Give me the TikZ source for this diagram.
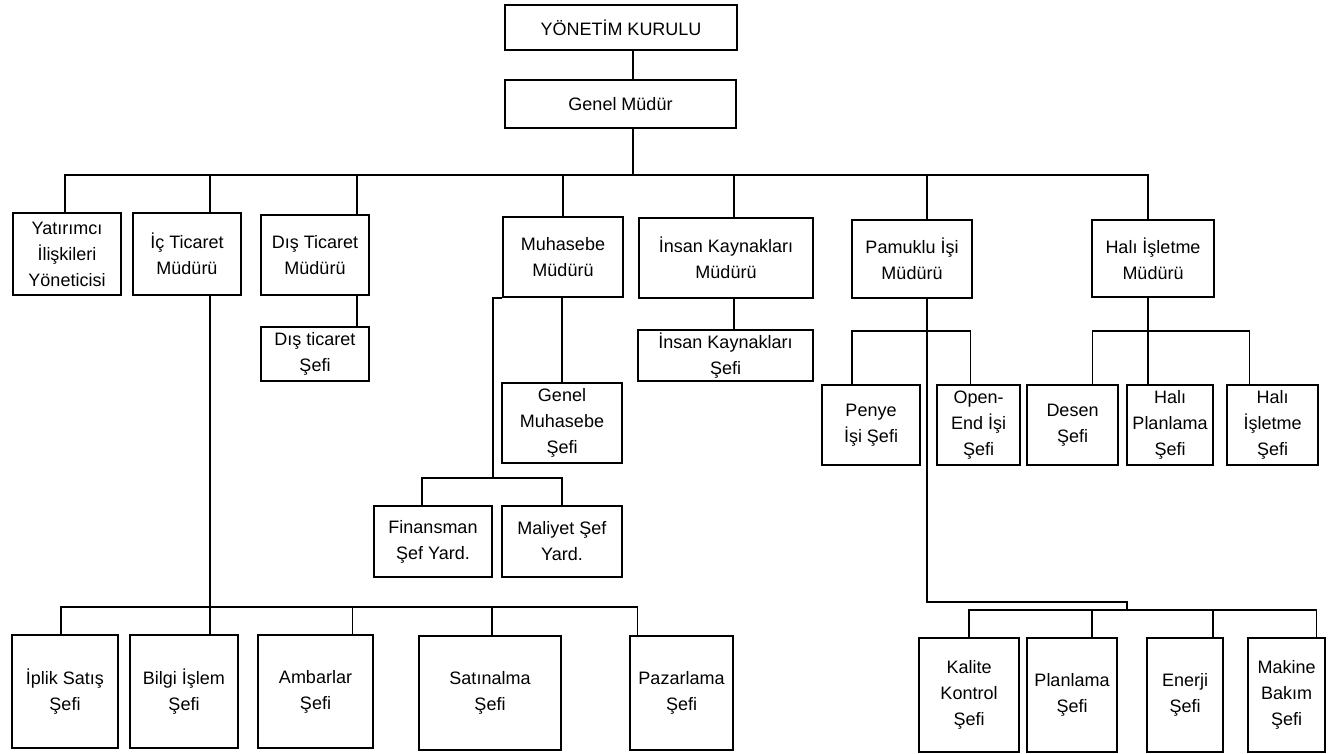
\documentclass[tikz,border=0pt]{standalone}
\usepackage{fontspec}
\setmainfont{Liberation Sans}
\usetikzlibrary{calc}
\newcommand\orgbox[6]{\node[orgnode, minimum width={#4-#2}, minimum height={#5-#3}] (#1) at ({(#2+#4)/2},{(#3+#5)/2}) {#6};}
\begin{document}
\begin{tikzpicture}[x=1pt,y=-1pt,
  orgnode/.style={draw, line width=1.8pt, inner sep=0pt, align=center, font=\fontsize{18}{26}\selectfont},
  link/.style={line width=1.8pt}]
\useasboundingbox[fill=white] (0,0) rectangle (1332,754);
% top
\orgbox{yk}{505}{5}{737}{50}{YÖNETİM KURULU}
\orgbox{gm}{505}{80}{736}{128}{Genel Müdür}
% level 1
\orgbox{yat}{13}{213}{121}{295}{Yatırımcı\\İlişkileri\\Yöneticisi}
\orgbox{ict}{133}{213}{241}{295}{İç Ticaret\\Müdürü}
\orgbox{dst}{261}{215}{369}{295}{Dış Ticaret\\Müdürü}
\orgbox{muh}{503}{217}{623}{297}{Muhasebe\\Müdürü}
\orgbox{ikm}{639}{218}{813}{298}{İnsan Kaynakları\\Müdürü}
\orgbox{pam}{852}{220}{972}{298}{Pamuklu İşi\\Müdürü}
\orgbox{hal}{1092}{220}{1214}{297}{Halı İşletme\\Müdürü}
% level 2
\orgbox{dts}{261}{327}{369}{381}{Dış ticaret\\Şefi}
\orgbox{iks}{638}{330}{813}{381}{İnsan Kaynakları\\Şefi}
\orgbox{gms}{502}{383}{622}{463}{Genel\\Muhasebe\\Şefi}
\orgbox{fin}{374}{506}{492}{577}{Finansman\\Şef Yard.}
\orgbox{mal}{502}{506}{622}{577}{Maliyet Şef\\Yard.}
\orgbox{pen}{822}{385}{920}{465}{Penye\\İşi Şefi}
\orgbox{ope}{937}{385}{1020}{465}{Open-\\End İşi\\Şefi}
\orgbox{des}{1027}{385}{1118}{465}{Desen\\Şefi}
\orgbox{hps}{1127}{385}{1213}{465}{Halı\\Planlama\\Şefi}
\orgbox{his}{1227}{385}{1318}{465}{Halı\\İşletme\\Şefi}
% bottom
\orgbox{ips}{12}{635}{118}{748}{İplik Satış\\Şefi}
\orgbox{bil}{130}{635}{238}{748}{Bilgi İşlem\\Şefi}
\orgbox{amb}{258}{635}{373}{748}{Ambarlar\\Şefi}
\orgbox{sat}{419}{636}{561}{750}{Satınalma\\Şefi}
\orgbox{paz}{630}{636}{733}{750}{Pazarlama\\Şefi}
\orgbox{kal}{919}{638}{1019}{752}{Kalite\\Kontrol\\Şefi}
\orgbox{pla}{1027}{638}{1117}{752}{Planlama\\Şefi}
\orgbox{ene}{1147}{638}{1223}{752}{Enerji\\Şefi}
\orgbox{mak}{1248}{638}{1325}{752}{Makine\\Bakım\\Şefi}
% connectors top
\coordinate (mb) at (633,175);
\draw[link] (yk.south -| mb) -- (gm.north -| mb);
\draw[link] (gm.south -| mb) -- (mb);
\coordinate (c1) at ([xshift=-2]yat.north);
\coordinate (c2) at ([xshift=23]ict.north);
\coordinate (c3) at ([xshift=42]dst.north);
\coordinate (c4) at (muh.north);
\coordinate (c5) at ([xshift=8]ikm.north);
\coordinate (c6) at ([xshift=15]pam.north);
\coordinate (c7) at ([xshift=-5]hal.north);
\draw[link] (c1) |- (c7 |- mb) -- (c7);
\foreach \c in {c2,c3,c4,c5,c6} \draw[link] (\c |- mb) -- (\c);
% level 2 links
\draw[link] (c3 |- dst.south) -- (c3 |- dts.north);
\draw[link] (c5 |- ikm.south) -- (c5 |- iks.north);
\draw[link] ([xshift=-1]muh.south) -- ([xshift=-1]muh.south |- gms.north);
\coordinate (fb) at ([yshift=27]fin.north east);
\draw[link] (muh.south west) -| (fb);
\draw[link] ([xshift=-11]fin.north) |- (mal.north |- fb) -- (mal.north);
% Ic ticaret bottom bus
\draw[link] (c2 |- ict.south) -- (c2 |- bil.north);
\coordinate (bb) at ([yshift=27]bil.north);
\draw[link] ([xshift=-4]ips.north) |- ([xshift=-44]paz.north |- bb) -- ([xshift=-44]paz.north);
\draw[link] ([xshift=37]amb.north |- bb) -- ([xshift=37]amb.north);
\draw[link] ([xshift=2]sat.north |- bb) -- ([xshift=2]sat.north);
% Pamuklu
\coordinate (pb) at ([yshift=53]pen.north);
\draw[link] ([xshift=-19]pen.north) |- ([xshift=-8]ope.north |- pb) -- ([xshift=-8]ope.north);
\coordinate (pk) at ([yshift=35]kal.north);
\coordinate (kb) at ([yshift=27]kal.north);
\coordinate (jog) at ([xshift=55]pla.north);
\draw[link] (c6 |- pam.south) |- (jog |- pk) -- (jog |- kb);
\draw[link] (kal.north) |- ([xshift=30]mak.north |- kb) -- ([xshift=30]mak.north);
\draw[link] ([xshift=20]pla.north |- kb) -- ([xshift=20]pla.north);
\draw[link] ([xshift=28]ene.north |- kb) -- ([xshift=28]ene.north);
% Hali
\draw[link] (c7 |- hal.south) -- (c7 |- hps.north);
\draw[link] ([xshift=20]des.north) |- ([xshift=-23]his.north |- pb) -- ([xshift=-23]his.north);
\end{tikzpicture}
\end{document}
